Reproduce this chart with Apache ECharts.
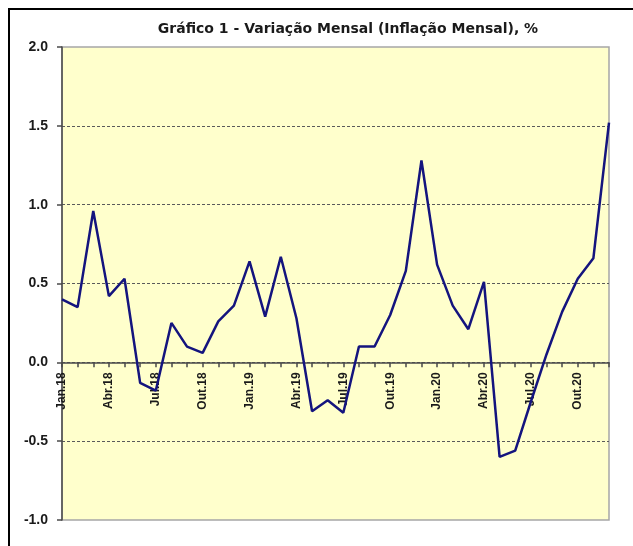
<!DOCTYPE html>
<html>
<head>
<meta charset="utf-8">
<title>Gráfico 1 - Variação Mensal</title>
<script src="https://cdn.jsdelivr.net/npm/echarts@6/dist/echarts.min.js"></script>
<style>
  html, body {
    margin: 0;
    padding: 0;
    background: #ffffff;
    overflow: hidden;
  }
  .frame {
    position: absolute;
    left: 8px;
    top: 8px;
    width: 640px;
    height: 560px;
    border-top: 2px solid #000;
    border-left: 2px solid #000;
  }
  #chart {
    position: absolute;
    left: 0;
    top: 0;
    width: 633px;
    height: 546px;
  }
</style>
</head>
<body>
<div class="frame"></div>
<div id="chart"></div>
<script>
  const months = ['Jan', 'Fev', 'Mar', 'Abr', 'Mai', 'Jun', 'Jul', 'Ago', 'Set', 'Out', 'Nov', 'Dez']
  const years = ['18', '19', '20']

  // monthly inflation, %
  const values2018 = [0.40, 0.35, 0.96, 0.42, 0.53, -0.13, -0.18, 0.25, 0.10, 0.06, 0.26, 0.36]
  const values2019 = [0.64, 0.29, 0.67, 0.28, -0.31, -0.24, -0.32, 0.10, 0.10, 0.30, 0.58, 1.28]
  const values2020 = [0.62, 0.36, 0.21, 0.51, -0.60, -0.56, -0.25, 0.05, 0.32, 0.53, 0.66, 1.52]

  const yMin = -1.0
  const yMax = 2.0
  const yStep = 0.5

  const categories = []
  years.forEach(y => months.forEach(m => categories.push(m + '.' + y)))
  const values = [...values2018, ...values2019, ...values2020]

  const font = '"Liberation Sans", Arial, sans-serif'
  const textColor = '#1a1a1a'
  const axisColor = '#4a4a4a'

  const gridTop = 47
  const gridBottom = 26
  const plotHeight = 546 - gridTop - gridBottom
  // the category axis sits on the zero line, labels included
  const zeroOffset = -plotHeight * (0 - yMin) / (yMax - yMin)

  const option = {
    animation: false,
    title: {
      text: 'Gráfico 1 - Variação Mensal (Inflação Mensal), %',
      left: 343,
      textAlign: 'center',
      top: 17,
      textStyle: {
        fontFamily: '"DejaVu Sans", Verdana, sans-serif',
        fontSize: 14,
        fontWeight: 'bold',
        color: textColor
      }
    },
    grid: {
      left: 62,
      right: 24,
      top: gridTop,
      bottom: gridBottom,
      outerBoundsMode: 'none',
      containLabel: false,
      show: true,
      backgroundColor: '#ffffcc',
      borderColor: '#a6a6a6',
      borderWidth: 1.5
    },
    xAxis: {
      type: 'category',
      data: categories,
      boundaryGap: false,
      position: 'bottom',
      offset: zeroOffset,
      axisLine: {
        onZero: false,
        lineStyle: { color: axisColor, width: 1.5 }
      },
      axisTick: {
        interval: 0,
        length: 5,
        lineStyle: { color: axisColor, width: 1.5 }
      },
      axisLabel: {
        interval: i => i % 3 === 0,
        rotate: 90,
        margin: 10,
        hideOverlap: false,
        fontFamily: font,
        fontSize: 12,
        fontWeight: 'bold',
        color: textColor
      },
      splitLine: { show: false }
    },
    yAxis: {
      type: 'value',
      min: yMin,
      max: yMax,
      interval: yStep,
      axisLine: {
        show: true,
        lineStyle: { color: axisColor, width: 1.5 }
      },
      axisTick: {
        show: true,
        length: 5,
        lineStyle: { color: axisColor, width: 1.5 }
      },
      axisLabel: {
        margin: 14,
        fontFamily: font,
        fontSize: 14,
        fontWeight: 'bold',
        color: textColor,
        formatter: v => v.toFixed(1)
      },
      splitLine: {
        show: true,
        lineStyle: {
          // first and last lines sit on the plot border, keep them hidden
          color: ['rgba(0,0,0,0)', '#5a5a5a', '#5a5a5a', '#5a5a5a', '#5a5a5a', '#5a5a5a'],
          type: [3, 2],
          width: 1
        }
      }
    },
    series: [
      {
        name: 'Variação Mensal',
        type: 'line',
        data: values,
        symbol: 'none',
        z: 5,
        lineStyle: { color: '#14147e', width: 2.5 }
      }
    ]
  }

  const chart = echarts.init(document.getElementById('chart'), null, { renderer: 'canvas' })
  chart.setOption(option)
</script>
</body>
</html>
